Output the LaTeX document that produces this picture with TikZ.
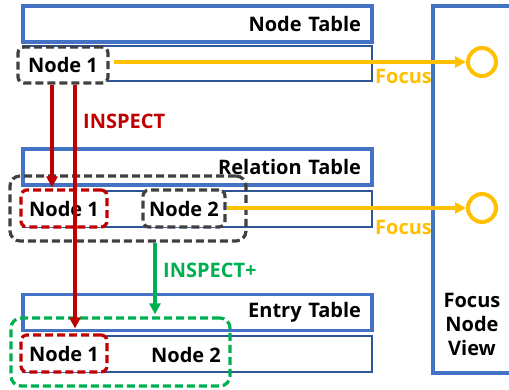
\documentclass[tikz,border=0pt]{standalone}
\usepackage{fontspec}
\setmainfont{Open Sans}
\usetikzlibrary{arrows.meta}
\definecolor{hblue}{HTML}{4472C4}
\definecolor{rblue}{HTML}{2F5597}
\definecolor{ired}{HTML}{C00000}
\definecolor{igreen}{HTML}{00B050}
\definecolor{iyellow}{HTML}{FFC000}
\definecolor{dgray}{HTML}{404040}
\tikzset{
  x=1pt, y=1pt,
  every node/.style={font=\fontsize{20}{23}\selectfont\bfseries},
  hdr/.style={draw=hblue, line width=3.8pt, minimum width=349pt, minimum height=36pt, text width=327pt, align=right, inner xsep=11pt, inner ysep=0pt},
  rowbox/.style={draw=rblue, line width=1.3pt, minimum width=349pt, minimum height=36pt, inner sep=0pt},
  dbox/.style={draw=#1, line width=3.2pt, dash pattern=on 8pt off 4pt, rounded corners=6pt, inner sep=0pt},
  redarrow/.style={draw=ired, line width=3.5pt, -{Triangle[length=11pt,width=11pt]}},
  grnarrow/.style={draw=igreen, line width=3.5pt, -{Triangle[length=11pt,width=11pt]}},
  yelarrow/.style={draw=iyellow, line width=3.5pt, -{Triangle[length=11pt,width=11pt]}},
  focuscirc/.style={circle, draw=iyellow, line width=4pt, minimum size=28pt, inner sep=0pt},
  lbl/.style={anchor=west, inner sep=0pt},
}
\begin{document}
\begin{tikzpicture}
\useasboundingbox (0,0) rectangle (509,-389);
% Focus node view
\begin{scope}
\clip (0,0) rectangle (509,-389);
\draw[draw=hblue, line width=3.8pt] (515,-6) -- (433,-6) -- (433,-373) -- (515,-373);
\end{scope}
\node[align=center, font=\fontsize{20}{24}\selectfont\bfseries] (fnv) at (472,-324) {Focus\\Node\\View};

% Node table
\node[hdr] (nthead) at (197.5,-24) {Node Table};
\node[rowbox, minimum height=35pt] (ntrow) at (197.5,-63.5) {};
\node[dbox=dgray, fill=white, minimum width=90pt, minimum height=36pt] (n1a) at (63,-65) {Node 1};
\node[focuscirc] (c1) at (482,-62) {};
\draw[yelarrow] ([xshift=4pt]n1a.east |- c1.west) -- (c1.west);
\node[lbl, text=iyellow] (foc1) at (375,-76) {Focus};

% Relation table
\node[hdr] (rthead) at (197.5,-167) {Relation Table};
\node[rowbox] (rtrow) at (197.5,-209) {};
\node[dbox=dgray, minimum width=236pt, minimum height=65pt, rounded corners=10pt] (rbig) at (128,-208.5) {};
\node[dbox=ired, fill=white, minimum width=86pt, minimum height=37pt] (n1b) at (64,-208.5) {Node 1};
\node[dbox=dgray, fill=white, minimum width=82pt, minimum height=37pt] (n2b) at (184,-208.5) {Node 2};
\node[focuscirc] (c2) at (482,-208) {};
\draw[yelarrow] (n2b.east |- c2.west) -- (c2.west);
\node[lbl, text=iyellow] (foc2) at (375,-227) {Focus};

% Entry table
\node[hdr] (ethead) at (197.5,-312.5) {Entry Table};
\node[rowbox] (etrow) at (197.5,-354) {};
\node[dbox=igreen, minimum width=219pt, minimum height=68pt, rounded corners=10pt] (gbig) at (120.5,-352) {};
\node[dbox=ired, fill=white, minimum width=86pt, minimum height=37pt] (n1c) at (64,-353.5) {Node 1};
\node (n2c) at (186,-355) {Node 2};

% Inspect arrows
\draw[redarrow] ([xshift=-11pt]n1a.south) -- ([xshift=-11pt,yshift=1pt]n1a.south |- n1b.north);
\draw[redarrow] ([xshift=12pt]n1a.south) -- ([xshift=12pt,yshift=5pt]n1a.south |- n1c.north);
\node[lbl, text=ired] (insp) at (83,-121) {INSPECT};
\draw[grnarrow] (rbig.south -| 155,0) -- ([yshift=2pt]gbig.north -| 155,0);
\node[lbl, text=igreen] (inspp) at (163,-270) {INSPECT+};
\end{tikzpicture}
\end{document}
